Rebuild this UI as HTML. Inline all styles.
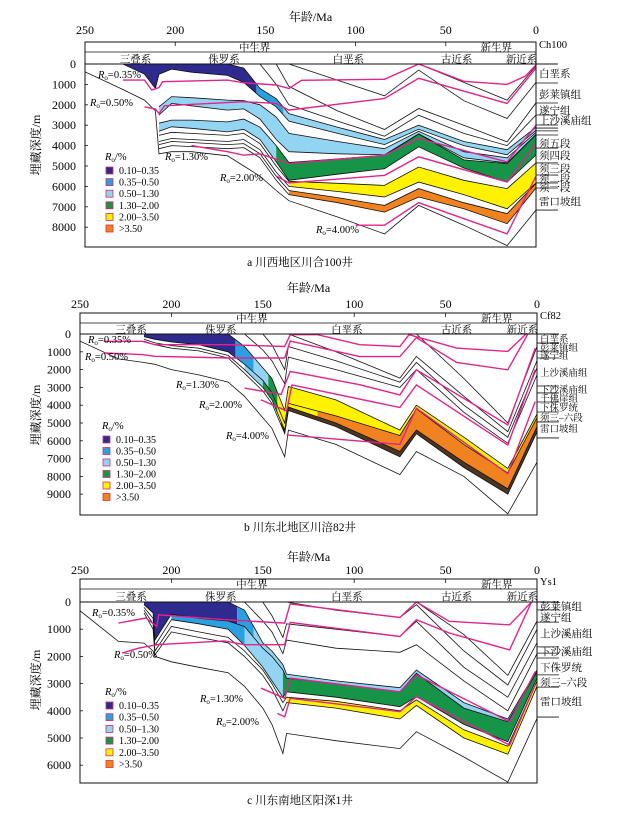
<!DOCTYPE html>
<html><head><meta charset="utf-8">
<style>
html,body{margin:0;padding:0;background:#fff;}
svg{display:block;font-family:"Liberation Serif","Noto Serif CJK SC",serif;}
</style></head>
<body>
<svg id="chart" width="633" height="813" viewBox="0 0 633 813" xmlns="http://www.w3.org/2000/svg"></svg>
<script>
// ---------- Panel A data (川合100井) ----------
const agesA = [250,229,217,211,209,202,191,171,162,153,144,137,110,84,65,40,16,0];
const aBottom = [380,1250,1770,2300,4400,4300,4300,4500,5000,5500,6200,6700,7500,8330,6930,7900,8900,7160];
const aXT = [null,0,0,0,0,0,0,0,200,1200,1700,2430,3100,3700,3000,3800,4200,3100];
const aXB = [null,0,500,1200,500,250,400,560,900,1600,2100,2800,3400,3950,3200,4000,4450,3250];
const aYT = [null,null,null,null,2100,1600,1650,1770,1800,2000,2600,3400,3800,4150,3300,4300,4600,3350];
const aYB = [null,null,null,null,2500,1930,2050,2260,2200,2700,3700,4300,4400,4450,3420,4600,4850,3450];
const aZT = [null,null,null,null,2900,2750,2750,2840,2700,3100,4000,4830,4650,4470,3430,4700,4880,3460];
const aZB = [null,null,null,null,3300,3080,3150,3330,3200,3700,4800,5700,5400,5130,4060,5100,5790,4460];
const aWT = [null,null,null,null,3500,3350,3400,3500,3400,3900,5000,5750,5850,5950,5050,5700,6110,4850];
const aWB = [null,null,null,null,3800,3650,3700,3800,3700,4200,5300,6000,6250,6520,5790,6400,7100,5830];
const aVT = [null,null,null,null,3950,3800,3850,3950,3900,4400,5500,6200,6550,6930,6110,6800,7340,5850];
const aVB = [null,null,null,null,4150,4000,4050,4150,4100,4600,5700,6400,6800,7260,6520,7100,7830,6080];
const aT1 = [null,null,null,null,null,null,null,null,null,null,null,null,null,null,0,900,1770,100];
const aT2 = [null,null,null,null,null,null,null,null,null,null,null,0,800,1560,300,1800,2670,900];
const aT3 = [null,null,null,null,null,null,null,null,null,null,0,1100,2300,3210,2180,3000,3820,1900];
const aT4 = [null,null,null,null,null,null,null,null,null,0,1000,2000,2800,3540,2510,3400,4000,2500];
const aBandX = [[229,155,'db'],[155,140,'b'],[140,0,'lb']];
const aBandY = [[209,0,'lb']];
const aBandZ = [[209,144,'lb'],[144,0,'g']];
const aBandW = [[137,0,'y']];
const aBandV = [[137,0,'o']];
const aRo035 = [[229,790],[217,790],[213,1280],[209,1150],[207,870],[171,790],[162,920],[144,1030],[137,1200],[130,800],[84,750],[65,0],[40,850],[16,1000],[6,600],[0,50]];
const aRo050 = [[217,2100],[211,2200],[209,2430],[206,2050],[162,1850],[144,1930],[137,2260],[84,1690],[65,700],[16,1930],[0,200]];
const aRo130 = [[191,4000],[171,4300],[162,4470],[153,4400],[137,4880],[84,4470],[65,3650],[16,4800],[0,3000]];
const aRo200 = [[144,5490],[137,5830],[84,5460],[65,4550],[16,5790],[0,3900]];
const aRo400 = [[100,7900],[84,7900],[65,6800],[16,8330],[0,5500]];
const aStratNames = ['白垩系','彭莱镇组','遂宁组','上沙溪庙组','须五段','须四段','须三段','须二段','须一段','雷口坡组'];
const aStratDepths = [440,1470,2250,2750,3870,4460,5100,5590,6030,6720];
const aMarkDepths = [930,1910,2500,2990,3140,3280,3480,4120,4850,5440,5830,6080,7160];

// ---------- Panel B data (川涪82井) ----------
const agesB = [250,229,215,209,200,185,169,160,150,145,138,136,110,75,66,40,16,0];
const bBottom = [400,1400,1600,1700,2000,2300,2700,3500,4700,5300,6900,5400,6200,7900,6600,8000,10100,7200];
const bXT = [null,null,0,0,0,0,0,700,1900,2500,4300,2950,3700,5400,4000,5800,7550,4500];
const bXB = [null,null,150,300,450,600,1000,1700,2600,3300,5000,3900,4600,5700,4200,6200,7800,4700];
const bYB = [null,null,300,500,650,800,1200,2000,3000,3700,5400,4100,5000,6600,5400,7200,8700,5200];
const bZB = [null,null,400,600,800,950,1350,2200,3200,3900,5600,4300,5200,6900,5600,7500,9000,5500];
const bU1 = [null,null,null,null,null,null,null,null,null,null,null,null,null,null,0,2500,5000,700];
const bU2 = [null,null,null,null,null,null,null,null,null,null,null,0,1000,2480,1260,3500,5490,1500];
const bU3 = [null,null,null,null,null,null,null,0,900,1500,2800,1300,2000,3000,2000,4400,6140,2300];
const bU4 = [null,null,null,null,null,null,null,null,0,600,2000,700,1500,2700,1600,4000,5800,1900];
const bBandX = [[215,165,'db'],[165,155,'b'],[155,147,'lb'],[147,142,'g'],[142,0,'y']];
const bBandY = [[160,150,'lb'],[150,142,'g'],[142,120,'y'],[120,0,'o']];
const bBandZ = [[140,0,'br']];
const bRo035 = [[237,410],[216,410],[209,600],[169,600],[138,700],[135,40],[120,40],[97,600],[75,700],[70,40],[44,790],[16,980],[6,0]];
const bRo050 = [[237,1070],[216,1160],[209,1250],[169,1350],[138,1350],[135,400],[97,1270],[75,1270],[66,200],[44,1600],[16,2010],[5,0]];
const bRo130 = [[160,3040],[140,3400],[135,2100],[97,2850],[75,3420],[66,2010],[16,5110],[1,800]];
const bRo200 = [[151,3700],[137,4320],[134,2860],[75,4130],[66,2860],[16,6240],[1,2000]];
const bRo400 = [[137,5670],[75,6200],[66,4170],[16,7850],[1,3800]];
const bStratNames = ['白垩系','彭莱镇组','遂宁组','上沙溪庙组','下沙溪庙组','千佛崖组','下侏罗统','须三–六段','雷口坡组'];
const bStratDepths = [220,730,1180,2130,3090,3600,4100,4660,5280];
const bMarkDepths = [510,960,1350,2920,3310,3820,4380,4940,5840];

// ---------- Panel C data (阳深1井) ----------
const agesC = [250,229,215,210,209,200,185,169,160,150,145,139,137,110,75,66,40,16,0];
const cBottom = [320,1450,1510,1800,2000,2200,2400,2600,3100,3900,4500,5570,4830,5100,5390,4770,5700,6620,4280];
const cXT = [null,null,0,0,0,0,0,0,300,1500,1800,2300,2650,2900,3150,2500,3700,4300,2500];
const cXB = [null,null,100,400,1400,450,600,700,900,1700,2000,2500,2800,3000,3300,2620,3900,4400,2560];
const cYB = [null,null,200,600,1600,650,800,1000,1600,2400,2900,3500,3300,3500,3850,3480,4500,5140,2800];
const cZT = [null,null,300,800,1800,900,1100,1300,1800,2500,3000,3700,3500,3650,4000,3600,4700,5300,2900];
const cZB = [null,null,400,1000,1950,1100,1300,1500,2000,2700,3200,4000,3700,3900,4300,3800,5000,5600,3100];
const cU1 = [null,null,null,null,null,null,null,null,null,null,null,null,null,null,null,0,1200,2700,700];
const cU2 = [null,null,null,null,null,null,null,null,null,null,null,null,0,300,570,100,1800,3050,1000];
const cU3 = [null,null,null,null,null,null,null,null,0,700,1100,1900,1400,1700,1850,1570,2900,4000,1900];
const cU4 = [null,null,null,null,null,null,null,null,null,0,500,1300,800,1000,1270,710,2400,3500,1500];
const cBandX = [[215,164,'db'],[164,155,'b'],[155,0,'lb']];
const cBandY = [[200,160,'b'],[160,139,'lb'],[139,0,'g']];
const cBandZ = [[137,0,'y']];
const cRo035 = [[229,775],[214,590],[208,900],[207,470],[171,650],[138,775],[135,70],[75,570],[66,0],[48,710],[15,840],[3,0]];
const cRo050 = [[227,1880],[218,1700],[208,1570],[171,1430],[160,1570],[138,1570],[135,750],[75,1270],[66,650],[48,1140],[15,1760],[3,0]];
const cRo130 = [[151,3170],[138,3540],[135,2800],[75,3300],[66,2680],[15,4400],[1,2560]];
const cRo200 = [[142,4100],[138,4220],[135,3540],[75,4030],[66,3480],[15,5260],[1,3050]];
const cStratNames = ['彭莱镇组','遂宁组','上沙溪庙组','下沙溪庙组','下侏罗统','须三–六段','雷口坡组'];
const cStratDepths = [150,550,1140,1800,2390,2940,3640];
const cMarkDepths = [290,740,1650,1880,2060,2680,3130,4230];

// ---------- shared ----------
const ageTicks = [250,200,150,100,50,0];
const legendLabels = ['0.10–0.35','0.35–0.50','0.50–1.30','1.30–2.00','2.00–3.50','>3.50'];
const legendKeys = ['db','b','lb','g','y','o'];
const COLORS = {db:'#2e2a8e',b:'#2aa0e0',lb:'#93d4f3',g:'#169448',y:'#fff200',o:'#f08220',br:'#4b3622'};
const MAG = '#e2238c';

const NS='http://www.w3.org/2000/svg';
const svg=document.getElementById('chart');
function mk(tag,attrs,parent){const e=document.createElementNS(NS,tag);for(const k in attrs)e.setAttribute(k,attrs[k]);(parent||svg).appendChild(e);return e;}

function interp(grid,h,age){
  for(let i=0;i<grid.length-1;i++){
    if(grid[i]>=age&&age>=grid[i+1]&&h[i]!=null&&h[i+1]!=null){
      const t=grid[i]===grid[i+1]?0:(grid[i]-age)/(grid[i]-grid[i+1]);
      return h[i]+t*(h[i+1]-h[i]);
    }
  }
  return null;
}

function drawPanel(P){
  const g=mk('g',{});
  
  
  const X=a=>P.xL+(250-a)/250*(P.xR-P.xL);
  const Y=d=>P.y0+d*P.k;
  const clip=mk('clipPath',{id:P.id+'-clip'},g);
  mk('rect',{x:P.xL,y:P.y0,width:P.xR-P.xL,height:P.bot-P.y0},clip);
  const plot=mk('g',{'clip-path':'url(#'+P.id+'-clip)'},g);
  
  

  P.bands.forEach(B=>{
    B.segs.forEach(s=>{
      const ages=[s[0]].concat(P.grid.filter(a=>a<s[0]&&a>s[1])).concat([s[1]]);
      const top=[],bot=[];
      ages.forEach(a=>{const t=interp(P.grid,B.top,a),b=interp(P.grid,B.bot,a);if(t!=null&&b!=null){top.push([X(a),Y(t)]);bot.push([X(a),Y(b)]);}});
      if(top.length<2)return;
      const pts=top.concat(bot.reverse()).map(p=>p[0].toFixed(1)+','+p[1].toFixed(1)).join(' ');
      const pg=mk('polygon',{points:pts,fill:COLORS[s[2]],stroke:'none'},plot);
      
      
    });
  });
  P.horizons.forEach((h,hi)=>{
    const pts=[];
    P.grid.forEach((a,i)=>{if(h[i]!=null)pts.push(X(a).toFixed(1)+','+Y(h[i]).toFixed(1));});
    const pl=mk('polyline',{points:pts.join(' '),fill:'none',stroke:'#111',"stroke-width":0.8},plot);
    
    
  });
  P.ro.forEach((r,ri)=>{
    const pts=r.map(p=>X(p[0]).toFixed(1)+','+Y(p[1]).toFixed(1)).join(' ');
    const pl=mk('polyline',{points:pts,fill:'none',stroke:MAG,"stroke-width":1.4},plot);
    
    
  });
  const fr=mk('rect',{x:P.xL,y:P.top,width:P.xR-P.xL,height:P.bot-P.top,fill:'none',stroke:'#111',"stroke-width":1},g);
  
  
  mk('line',{x1:P.xL,x2:P.xR,y1:P.div,y2:P.div,stroke:'#111',"stroke-width":0.8},g);
  mk('line',{x1:P.xL,x2:P.xR+22,y1:P.y0,y2:P.y0,stroke:'#111',"stroke-width":1},g);
  ageTicks.forEach(a=>{
    mk('line',{x1:X(a),x2:X(a),y1:P.top,y2:P.top+4,stroke:'#111',"stroke-width":0.8},g);
    const t=mk('text',{x:X(a),y:P.tickY,'text-anchor':'middle','font-size':12},g);
    t.textContent=a;
    
    
  });
  const tt=mk('text',{x:(P.xL+P.xR)/2,y:P.titleY,'text-anchor':'middle','font-size':12},g);
  tt.textContent='年龄/Ma';
  
  
  for(let d=0;d<=P.maxD;d+=1000){
    mk('line',{x1:P.xL,x2:P.xL+3,y1:Y(d),y2:Y(d),stroke:'#111',"stroke-width":0.8},g);
    const t=mk('text',{x:P.xL-9,y:Y(d)+4,'text-anchor':'end','font-size':12},g);
    t.textContent=d;
    
    
  }
  const yt=mk('text',{x:0,y:0,'text-anchor':'middle','font-size':12,transform:'translate(40,'+P.yTitle+') rotate(-90)'},g);
  yt.textContent='埋藏深度/m';
  
  
  const hdr=[['中生界',156,1],['新生界',22,1],['三叠系',222,2],['侏罗系',173,2],['白垩系',104,2],['古近系',44,2],['新近系',8,2]];
  hdr.forEach(h=>{
    const yy=h[2]===1?(P.top+P.div)/2+4:(P.div+P.y0)/2+4.5;
    const t=mk('text',{x:X(h[1]),y:yy,'text-anchor':'middle','font-size':10.5},g);
    t.textContent=h[0];
    
    
  });
  const wl=mk('text',{x:P.xR+3,y:P.top+6,'font-size':10.5},g);
  wl.textContent=P.well;
  
  
  P.markD.forEach(d=>{mk('line',{x1:P.xR,x2:P.xR+22,y1:Y(d),y2:Y(d),stroke:'#111',"stroke-width":0.8},g);});
  P.stratN.forEach((n,i)=>{
    const t=mk('text',{x:P.xR+3,y:Y(P.stratD[i])+4,'font-size':P.stratFs||10.5},g);
    t.textContent=n;
    
    
  });
  P.roLab.forEach(l=>{
    const t=mk('text',{x:l[0],y:l[1],'font-size':10.5},g);
    t.innerHTML='<tspan font-style="italic">R</tspan><tspan font-size="7" dy="2">o</tspan><tspan dy="-2">='+l[2]+'</tspan>';
    
    
  });
  const lg=mk('g',{},g);
  
  
  const lt=mk('text',{x:P.legX,y:P.legY,'font-size':10.5},lg);
  lt.innerHTML='<tspan font-style="italic">R</tspan><tspan font-size="7" dy="2">o</tspan><tspan dy="-2">/%</tspan>';
  legendLabels.forEach((lab,i)=>{
    const yy=P.legY+14+i*P.legStep;
    const r=mk('rect',{x:P.legX+1,y:yy-7,width:7,height:7,fill:COLORS[legendKeys[i]],stroke:i===5?'#e03030':'#d0306a','stroke-width':0.8},lg);
    
    
    const t=mk('text',{x:P.legX+14,y:yy,'font-size':10},lg);
    t.textContent=lab;
    
    
  });
  const cap=mk('text',{x:P.capX,y:P.capY,'text-anchor':'middle','font-size':11.5},g);
  cap.textContent=P.caption;
  
  
}

drawPanel({id:'panel-a',grid:agesA,xL:85,xR:536,top:42,div:52,y0:64,k:20.4/1000,bot:247,maxD:8000,titleY:21,tickY:34,yTitle:145,
  well:'Ch100',caption:'a 川西地区川合100井',capX:300,capY:266,legX:105,legY:160,legStep:11.6,
  bands:[{name:'x',top:aXT,bot:aXB,segs:aBandX},{name:'y',top:aYT,bot:aYB,segs:aBandY},{name:'z',top:aZT,bot:aZB,segs:aBandZ},{name:'w',top:aWT,bot:aWB,segs:aBandW},{name:'v',top:aVT,bot:aVB,segs:aBandV}],
  horizons:[aBottom,aXT,aXB,aYT,aYB,aZT,aZB,aWT,aWB,aVT,aVB,aT1,aT2,aT3,aT4],
  ro:[aRo035,aRo050,aRo130,aRo200,aRo400],
  roLab:[[98,78,'0.35%'],[90,106,'0.50%'],[165,160,'1.30%'],[220,181,'2.00%'],[316,233,'4.00%']],
  stratN:aStratNames,stratD:aStratDepths,markD:aMarkDepths});

drawPanel({id:'panel-b',grid:agesB,xL:80,xR:537,top:313,div:323,y0:334,k:17.8/1000,bot:515,maxD:9000,titleY:292,tickY:308,yTitle:415,
  well:'Cf82',caption:'b  川东北地区川涪82井',capX:300,capY:531,legX:102,legY:429,legStep:11.5,stratFs:9.5,
  bands:[{name:'x',top:bXT,bot:bXB,segs:bBandX},{name:'y',top:bXB,bot:bYB,segs:bBandY},{name:'z',top:bYB,bot:bZB,segs:bBandZ}],
  horizons:[bBottom,bXT,bXB,bYB,bZB,bU1,bU2,bU3,bU4],
  ro:[bRo035,bRo050,bRo130,bRo200,bRo400],
  roLab:[[88,343,'0.35%'],[85,360,'0.50%'],[176,388,'1.30%'],[199,408,'2.00%'],[226,439,'4.00%']],
  stratN:bStratNames,stratD:bStratDepths,markD:bMarkDepths});

drawPanel({id:'panel-c',grid:agesC,xL:80,xR:537,top:579,div:589,y0:602,k:27.2/1000,bot:783,maxD:6000,titleY:561,tickY:574,yTitle:680,
  well:'Ys1',caption:'c  川东南地区阳深1井',capX:300,capY:804,legX:105,legY:695,legStep:11.7,
  bands:[{name:'x',top:cXT,bot:cXB,segs:cBandX},{name:'y',top:cXB,bot:cYB,segs:cBandY},{name:'z',top:cZT,bot:cZB,segs:cBandZ}],
  horizons:[cBottom,cXT,cXB,cYB,cZT,cZB,cU1,cU2,cU3,cU4],
  ro:[cRo035,cRo050,cRo130,cRo200],
  roLab:[[92,616,'0.35%'],[114,658,'0.50%'],[200,702,'1.30%'],[216,725,'2.00%']],
  stratN:cStratNames,stratD:cStratDepths,markD:cMarkDepths});
</script>
</body></html>
